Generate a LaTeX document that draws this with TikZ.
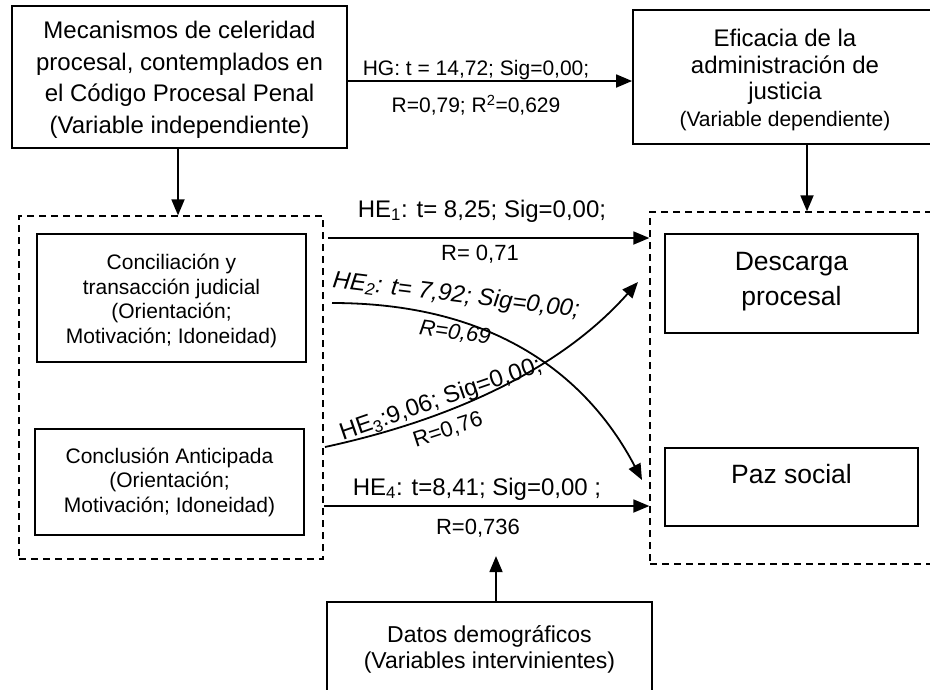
\documentclass[tikz,border=0pt]{standalone}
\usepackage{fontspec}
\setmainfont{Liberation Sans}
\usetikzlibrary{arrows.meta,calc}
\begin{document}
\begin{tikzpicture}[x=1pt,y=-1pt,
  box/.style={draw,line width=1.8pt,inner sep=0pt,align=center},
  grp/.style={draw,line width=1.3pt,dash pattern=on 7pt off 5pt,inner sep=0pt},
  arr/.style={line width=1.8pt,-{Triangle[length=16pt,width=13pt]}},
  helbl/.style={inner sep=0pt,font=\fontsize{24}{28}\selectfont},
  rlbl/.style={inner sep=0pt,font=\fontsize{22}{26}\selectfont},
  smlbl/.style={inner sep=0pt,font=\fontsize{21}{25}\selectfont},
  txt/.style={inner sep=0pt,align=center},
]
\useasboundingbox (0,0) rectangle (930,689);
\clip (0,0) rectangle (930,689);

% top boxes
\node[box,minimum width=335pt,minimum height=142pt] (mec) at (179.5,77) {};
\node[txt,font=\fontsize{24}{31.5}\selectfont] (mectxt) at (179.5,80)
  {Mecanismos de celeridad\\procesal, contemplados en\\el Código Procesal Penal\\(Variable independiente)};
\node[box,minimum width=304pt,minimum height=134pt] (efi) at (785,77) {};
\node[txt,font=\fontsize{24}{26.5}\selectfont] (efitxt) at (785,80)
  {Eficacia de la\\administración de\\justicia\\{\fontsize{21}{25}\selectfont(Variable dependiente)}};

% dashed groups
\node[grp,minimum width=304pt,minimum height=343pt] (lg) at (171,387.5) {};
\node[grp,minimum width=295pt,minimum height=352pt] (rg) at (797.5,388) {};

% inner boxes
\node[box,minimum width=269pt,minimum height=128pt] (con) at (171.5,298) {};
\node[txt,font=\fontsize{21}{24.5}\selectfont] (contxt) at (171.5,301)
  {Conciliación y\\transacción judicial\\(Orientación;\\Motivación; Idoneidad)};
\node[box,minimum width=269pt,minimum height=106pt,font=\fontsize{21}{24.5}\selectfont] (cla) at (169.5,482)
  {Conclusión Anticipada\\(Orientación;\\Motivación; Idoneidad)};
\node[box,minimum width=253pt,minimum height=99pt] (des) at (791.5,283.5) {};
\node[txt,font=\fontsize{26.5}{35}\selectfont] (destxt) at (791.5,281.5) {Descarga\\procesal};
\node[box,minimum width=253pt,minimum height=78pt] (paz) at (791.5,487) {};
\node[inner sep=0pt,anchor=base,font=\fontsize{26.5}{32}\selectfont] (paztxt) at (791.5,483) {Paz social};

% bottom box
\node[box,minimum width=325pt,minimum height=90pt] (dat) at (489.5,647) {};
\node[txt,font=\fontsize{23}{26}\selectfont] (dattxt) at (489.5,649)
  {Datos demográficos\\(Variables intervinientes)};

% connectors
\draw[arr] ([yshift=-4pt]mec.east) -- ([yshift=-4pt]efi.west);
\draw[arr] ([xshift=-1.5pt]mec.south) -- ([xshift=-1.5pt]mec.south |- lg.north);
\draw[arr] ([xshift=22pt]efi.south) -- ([xshift=22pt]efi.south |- rg.north);
\draw[arr] ([xshift=6.5pt]dat.north) -- ++(0,-45);

\coordinate (h1s) at (328,238);
\coordinate (h4s) at (324,506);
\coordinate (h2s) at (332,303);
\coordinate (h2e) at (642,480);
\coordinate (h3s) at (325,447);
\coordinate (h3e) at (638,282);

\draw[arr] (h1s) -- (h1s -| rg.west);
\draw[arr] (h4s) -- (h4s -| rg.west);
\draw[arr] (h2s) .. controls (520,303) and (600,400) .. (h2e);
\draw[arr] (h3s) .. controls (450,420) and (560,370) .. (h3e);

% labels
\node[smlbl] (lhg1) at (476,70) {HG: t = 14,72; Sig=0,00;};
\node[smlbl] (lhg2) at (476,105) {R=0,79; R\textsuperscript{2}=0,629};
\node[helbl] (l11) at (482,211) {HE\textsubscript{1}: t= 8,25; Sig=0,00;};
\node[rlbl] (l12) at (480,254) {R= 0,71};
\node[helbl,rotate=-7] (l21) at (456,296) {\itshape HE\textsubscript{2}: t= 7,92; Sig=0,00;};
\node[rlbl,rotate=-8] (l22) at (455,333) {\itshape R=0,69};
\node[helbl,rotate=19] (l31) at (441,400) {HE\textsubscript{3}:9,06; Sig=0,00;};
\node[rlbl,rotate=18] (l32) at (448,430) {R=0,76};
\node[helbl] (l41) at (477,489) {HE\textsubscript{4}: t=8,41; Sig=0,00 ;};
\node[rlbl] (l42) at (478,528) {R=0,736};
\end{tikzpicture}
\end{document}
